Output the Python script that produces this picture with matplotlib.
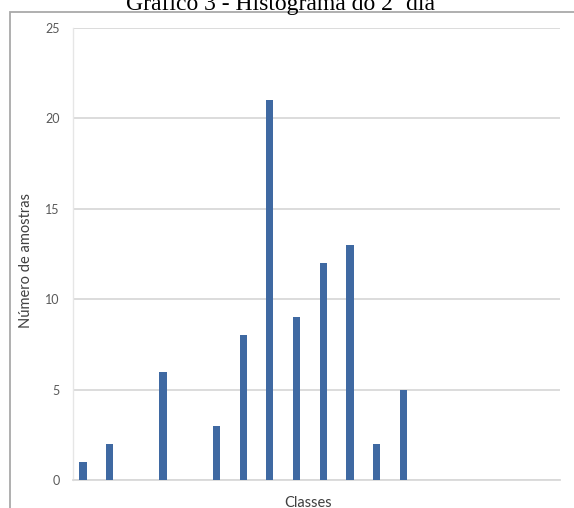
import matplotlib
matplotlib.use("Agg")
import matplotlib.pyplot as plt
from matplotlib.patches import Rectangle

# Dados do histograma (classes sem rótulo no eixo)
classes = [str(i) for i in range(1, 19)]
amostras = [1, 2, 0, 6, 0, 3, 8, 21, 9, 12, 13, 2, 5, 0, 0, 0, 0, 0]
yticks = [0, 5, 10, 15, 20, 25]

W, H = 574, 508
fig = plt.figure(figsize=(W / 100, H / 100), dpi=100)
fig.patch.set_facecolor("white")

# moldura cinza do gráfico (cortada à direita e embaixo)
fig.patches.append(Rectangle((10 / W, -0.2), 1.5, 1.2 - 12 / H,
                             transform=fig.transFigure, fill=False,
                             edgecolor="#a9a9a9", linewidth=1.3))

ax = fig.add_axes([73 / W, 1 - 480 / H, (560 - 73) / W, (480 - 28) / H])
x = list(range(len(classes)))
ax.bar(x, amostras, width=0.27, color="#3F69A2", zorder=3)

ax.set_xlim(-0.375, 17.87)
ax.set_ylim(0, 25)
ax.set_yticks(yticks)
ax.set_xticks([])
ax.grid(axis="y", color="#d9d9d9", linewidth=1.3, zorder=0)
for s in ["top", "right"]:
    ax.spines[s].set_visible(False)
ax.spines["bottom"].set_color("#d9d9d9")
ax.spines["bottom"].set_linewidth(1.3)
ax.spines["left"].set_color("#e6e6e6")
ax.spines["left"].set_linewidth(1.0)
ax.tick_params(axis="y", length=0, pad=9.5, labelsize=9, labelcolor="#595959")
for t in ax.get_yticklabels():
    t.set_family("Lato")

ax.set_ylabel("Número de amostras", fontsize=10.5, color="#404040", family="Lato")
ax.yaxis.set_label_coords(-0.082, 0.485)
ax.set_xlabel("Classes", fontsize=10.5, color="#404040", family="Lato")
ax.xaxis.set_label_coords(0.483, -0.036)

fig.text(281 / W, 1 - 10 / H, "Gráfico 3 - Histograma do 2º dia",
         ha="center", va="baseline", fontsize=17, family="Liberation Serif",
         color="black")

fig.savefig("out.png", dpi=100)
